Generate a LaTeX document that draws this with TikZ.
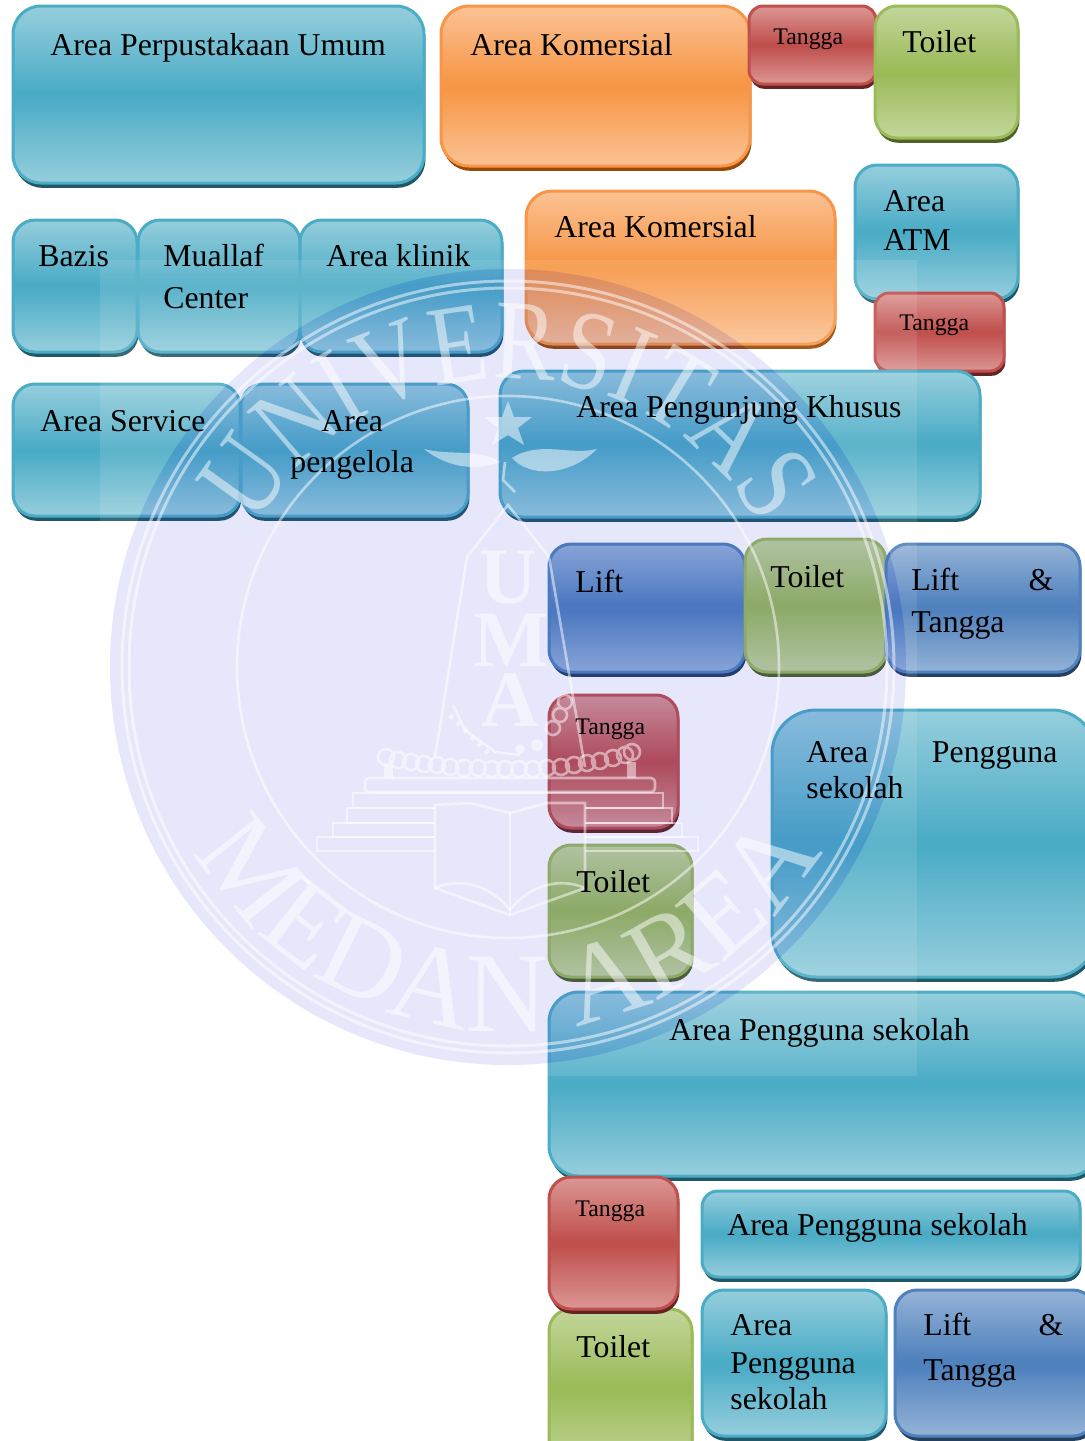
\documentclass[tikz,border=0pt]{standalone}
\usepackage{fontspec}
\setmainfont{Liberation Serif}
\newfontfamily\sealfont[FakeStretch=0.82]{Liberation Serif}
\usetikzlibrary{shadows,decorations.text}

\definecolor{tealmain}{RGB}{75,172,198}
\definecolor{teallight}{RGB}{150,206,221}
\definecolor{tealdark}{RGB}{33,88,103}
\definecolor{orangemain}{RGB}{247,150,70}
\definecolor{orangelight}{RGB}{251,194,148}
\definecolor{orangedark}{RGB}{152,72,7}
\definecolor{redmain}{RGB}{192,80,77}
\definecolor{redlight}{RGB}{219,150,148}
\definecolor{reddark}{RGB}{99,36,35}
\definecolor{greenmain}{RGB}{155,187,89}
\definecolor{greenlight}{RGB}{195,214,155}
\definecolor{greendark}{RGB}{79,98,40}
\definecolor{liftmain}{RGB}{79,129,189}
\definecolor{liftlight}{RGB}{149,179,215}
\definecolor{liftdark}{RGB}{36,64,97}
\definecolor{sealblue}{RGB}{47,55,221}

\pgfdeclareverticalshading{tealshade}{100bp}{color(0bp)=(teallight); color(25bp)=(teallight); color(49bp)=(tealmain); color(51bp)=(tealmain); color(75bp)=(teallight); color(100bp)=(teallight)}
\pgfdeclareverticalshading{orangeshade}{100bp}{color(0bp)=(orangelight); color(25bp)=(orangelight); color(49bp)=(orangemain); color(51bp)=(orangemain); color(75bp)=(orangelight); color(100bp)=(orangelight)}
\pgfdeclareverticalshading{redshade}{100bp}{color(0bp)=(redlight); color(25bp)=(redlight); color(49bp)=(redmain); color(51bp)=(redmain); color(75bp)=(redlight); color(100bp)=(redlight)}
\pgfdeclareverticalshading{greenshade}{100bp}{color(0bp)=(greenlight); color(25bp)=(greenlight); color(49bp)=(greenmain); color(51bp)=(greenmain); color(75bp)=(greenlight); color(100bp)=(greenlight)}
\pgfdeclareverticalshading{liftshade}{100bp}{color(0bp)=(liftlight); color(25bp)=(liftlight); color(49bp)=(liftmain); color(51bp)=(liftmain); color(75bp)=(liftlight); color(100bp)=(liftlight)}

\tikzset{
    areabox/.style={rectangle, anchor=north west, inner sep=0pt, outer sep=0pt, line width=1.5pt},
    tealbox/.style={areabox, draw=tealmain, shade, shading=tealshade, general shadow={shadow xshift=.7pt, shadow yshift=-2.4pt, fill=tealdark}},
    orangebox/.style={areabox, draw=orangemain, shade, shading=orangeshade, general shadow={shadow xshift=.7pt, shadow yshift=-2.4pt, fill=orangedark}},
    redbox/.style={areabox, draw=redmain, shade, shading=redshade, general shadow={shadow xshift=.7pt, shadow yshift=-2.4pt, fill=reddark}},
    greenbox/.style={areabox, draw=greenmain, shade, shading=greenshade, general shadow={shadow xshift=.7pt, shadow yshift=-2.4pt, fill=greendark}},
    liftbox/.style={areabox, draw=liftmain, shade, shading=liftshade, general shadow={shadow xshift=.7pt, shadow yshift=-2.4pt, fill=liftdark}},
    areatext/.style={font=\fontsize{15.9}{20}\selectfont, inner sep=0pt, anchor=base west, align=left, xshift=-.5pt},
    smalltext/.style={font=\fontsize{11.9}{14}\selectfont, inner sep=0pt, anchor=base west},
    sealline/.style={draw=white, line width=1.3pt},
    sealletter/.style={font=\fontsize{40}{40}\selectfont\bfseries, text=white, inner sep=0pt}
}
\newcommand{\sealtop}{\sealfont\fontsize{57}{57}\selectfont\color{white}}
\newcommand{\sealbottom}{\fontsize{57}{57}\selectfont\color{white}}

\begin{document}
\begin{tikzpicture}[x=0.5pt,y=-0.5pt]
    \clip (0,0) rectangle (1085,1441);

    \node[tealbox, rounded corners=14pt, minimum width=205.5pt, minimum height=88.5pt] (perpustakaan) at (13,6) {};
    \node[orangebox, rounded corners=14pt, minimum width=154.5pt, minimum height=80pt] (komersialA) at (441,6) {};
    \node[redbox, rounded corners=7pt, minimum width=63.5pt, minimum height=39pt] (tanggaA) at (749,6) {};
    \node[greenbox, rounded corners=11pt, minimum width=71.5pt, minimum height=66pt] (toiletA) at (875,6) {};
    \node[orangebox, rounded corners=13pt, minimum width=154.5pt, minimum height=76.5pt] (komersialB) at (526,191) {};
    \node[tealbox, rounded corners=11pt, minimum width=81.5pt, minimum height=67pt] (atm) at (855,165) {};
    \node[redbox, rounded corners=7pt, minimum width=64.5pt, minimum height=39pt] (tanggaB) at (875,293) {};

    \node[tealbox, rounded corners=11pt, minimum width=62pt, minimum height=66pt] (bazis) at (13,220) {};
    \node[tealbox, rounded corners=11pt, minimum width=81pt, minimum height=66pt] (muallaf) at (138,220) {};
    \node[tealbox, rounded corners=11pt, minimum width=101pt, minimum height=66pt] (klinik) at (300,220) {};
    \node[tealbox, rounded corners=11pt, minimum width=113.5pt, minimum height=66pt] (service) at (13,384) {};
    \node[tealbox, rounded corners=11pt, minimum width=113.5pt, minimum height=66pt] (pengelola) at (241,384) {};
    \node[tealbox, rounded corners=12pt, minimum width=240pt, minimum height=73pt] (pengunjung) at (500,371) {};

    \node[liftbox, rounded corners=11pt, minimum width=98pt, minimum height=64pt] (liftA) at (549,544) {};
    \node[greenbox, rounded corners=11pt, minimum width=70.5pt, minimum height=66.5pt] (toiletB) at (745,539) {};
    \node[liftbox, rounded corners=11pt, minimum width=97pt, minimum height=64pt] (liftB) at (886,544) {};

    \node[redbox, rounded corners=11pt, minimum width=64.5pt, minimum height=66.5pt] (tanggaC) at (549,695) {};
    \node[greenbox, rounded corners=11pt, minimum width=71.5pt, minimum height=66pt] (toiletC) at (549,845) {};
    \node[tealbox, rounded corners=22pt, minimum width=162pt, minimum height=133.5pt] (penggunaA) at (772,710) {};
    \node[tealbox, rounded corners=15pt, minimum width=275pt, minimum height=92pt] (penggunaB) at (549,992) {};

    \node[greenbox, rounded corners=11pt, minimum width=71.5pt, minimum height=80pt] (toiletD) at (549,1309) {};
    \node[redbox, rounded corners=11pt, minimum width=64.5pt, minimum height=66pt] (tanggaD) at (549,1177) {};
    \node[tealbox, rounded corners=8pt, minimum width=189pt, minimum height=43pt] (penggunaC) at (702,1191) {};
    \node[tealbox, rounded corners=11pt, minimum width=92pt, minimum height=73pt] (penggunaD) at (702,1290) {};
    \node[liftbox, rounded corners=11pt, minimum width=100pt, minimum height=73pt] (liftC) at (895,1290) {};

    \fill[white, opacity=.1, even odd rule] (100,260) rectangle (917,1076) (508,667) circle (398);
    \fill[sealblue, opacity=.12] (508,667) circle (398);

    \begin{scope}[opacity=.5]
        \draw[sealline, line width=1.5pt] (508,667) circle (386);
        \draw[sealline, line width=1.5pt] (508,667) circle (379);
        \draw[sealline] (508,667) circle (271);

        \path[decorate, decoration={text along path, text align=center, text={|\sealtop|UNIVERSITAS}}]
            (237,568) arc[start angle=200, end angle=340, radius=288];
        \path[decorate, decoration={text along path, text align=center, text={|\sealbottom|MEDAN AREA}}]
            (178,821) arc[start angle=155, end angle=25, radius=364];

        \node[sealletter] (sealU) at (508,578) {U};
        \node[sealletter] (sealM) at (511,640) {M};
        \node[sealletter] (sealA) at (510,700) {A};

        \draw[sealline] (435,757) -- (467,557) -- (508,505) -- (549,557) -- (585,767);

        \draw[sealline, rounded corners=2pt] (365,778) rectangle (655,792);
        \draw[sealline] (435,808) -- (353,808) -- (353,793) -- (663,793) -- (663,808) -- (585,808);
        \draw[sealline] (435,808) -- (347,808) -- (347,823) -- (435,823) (585,808) -- (672,808) -- (672,823) -- (585,823);
        \draw[sealline] (435,823) -- (333,823) -- (333,837) -- (435,837) (585,823) -- (682,823) -- (682,837) -- (585,837);
        \draw[sealline] (435,837) -- (317,837) -- (317,851) -- (435,851) (585,837) -- (698,837) -- (698,851) -- (585,851);

        \fill[white] (508,401) -- ++(6,16) -- ++(18,0) -- ++(-14,11) -- ++(6,17) -- ++(-16,-10) -- ++(-16,10) -- ++(6,-17) -- ++(-14,-11) -- ++(18,0) -- cycle;
        \fill[white] (424,449) .. controls (450,470) and (480,470) .. (500,462) .. controls (480,448) and (450,456) .. (424,449);
        \fill[white] (597,449) .. controls (570,476) and (530,478) .. (512,458) .. controls (540,440) and (570,456) .. (597,449);
        \draw[sealline] (505,462) -- (503,480) -- (515,492);

        \draw[sealline] (386,757) circle (8) (398,760) circle (8) (411,762) circle (8) (424,764) circle (8) (437,765) circle (8) (450,767) circle (8) (464,768) circle (8) (478,768) circle (8) (492,769) circle (8) (505,769) circle (8) (519,769) circle (8) (533,769) circle (8) (547,768) circle (8) (561,767) circle (8) (574,765) circle (8) (587,763) circle (8) (600,761) circle (8) (613,758) circle (8) (625,755) circle (8) (632,752) circle (8);
        \fill[white] (384,765) rectangle (393,778);
        \fill[white] (627,762) rectangle (636,778);
        \fill[white] (520,749) circle (5) (537,745) circle (6);
        \draw[sealline] (565,702) circle (7) (560,715) circle (7) (553,728) circle (7);
        \draw[sealline] (453,705) -- (465,730) -- (495,752) -- (520,755);
        \draw[sealline, line width=2.5pt, dash pattern=on 2pt off 3pt] (450,715) -- (490,755);

        \draw[sealline] (435,805) -- (470,803) -- (510,813) -- (547,803) -- (585,803) -- (585,888) -- (510,915) -- (435,888) -- cycle;
        \draw[sealline] (510,813) -- (510,915);
        \draw[sealline] (435,888) .. controls (465,875) and (495,890) .. (510,910);
        \draw[sealline] (585,888) .. controls (555,875) and (525,890) .. (510,910);
    \end{scope}

    \node[areatext] (perpustakaanText) at (51,55) {Area Perpustakaan Umum};
    \node[areatext] (komersialAText) at (471,55) {Area Komersial};
    \node[smalltext] (tanggaAText) at (773,44) {Tangga};
    \node[areatext] (toiletAText) at (903,52) {Toilet};
    \node[areatext] (komersialBText) at (555,237) {Area Komersial};
    \node[areatext] (atmText) at (884,250) {Area\\[-.5pt]ATM};
    \node[smalltext] (tanggaBText) at (899,330) {Tangga};
    \node[areatext] (bazisText) at (39,266) {Bazis};
    \node[areatext] (muallafText) at (164,308) {Muallaf\\[1pt]Center};
    \node[areatext] (klinikText) at (327,266) {Area klinik};
    \node[areatext] (serviceText) at (41,431) {Area Service};
    \node[areatext, align=center] (pengelolaText) at (291,472) {Area\\[.5pt]pengelola};
    \node[areatext] (pengunjungText) at (577,417) {Area Pengunjung Khusus};
    \node[areatext] (liftAText) at (576,592) {Lift};
    \node[areatext] (toiletBText) at (771,587) {Toilet};
    \node[areatext] (liftBText) at (912,632) {\makebox[71pt][l]{Lift\hfill\&}\\[1pt]Tangga};
    \node[smalltext] (tanggaCText) at (575,734) {Tangga};
    \node[areatext] (penggunaAText) at (807,798) {\makebox[125.5pt][l]{Area\hfill Pengguna}\\[-2pt]sekolah};
    \node[areatext] (toiletCText) at (577,892) {Toilet};
    \node[areatext] (penggunaBText) at (670,1040) {Area Pengguna sekolah};
    \node[smalltext] (tanggaDText) at (575,1216) {Tangga};
    \node[areatext] (penggunaCText) at (728,1235) {Area Pengguna sekolah};
    \node[areatext] (toiletDText) at (577,1357) {Toilet};
    \node[areatext] (penggunaDText) at (731,1409) {Area\\[-1pt]Pengguna\\[-2pt]sekolah};
    \node[areatext] (liftCText) at (924,1380) {\makebox[70pt][l]{Lift\hfill\&}\\[2.5pt]Tangga};
\end{tikzpicture}
\end{document}
